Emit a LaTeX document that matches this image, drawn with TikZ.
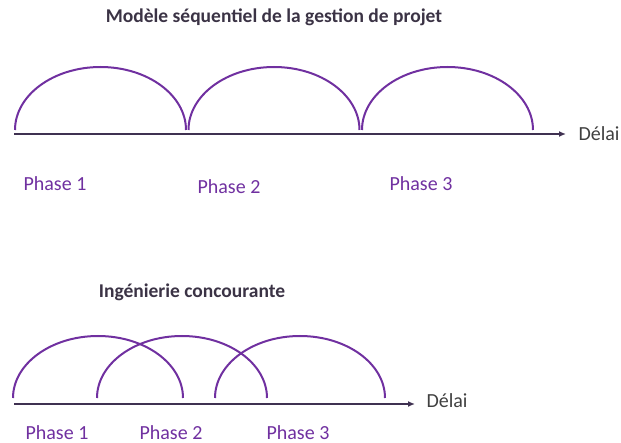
\documentclass[tikz,border=0pt]{standalone}
\usepackage{fontspec}
\setmainfont{Carlito}
\usepackage{tikz}
\usetikzlibrary{arrows.meta}

\definecolor{phasepurple}{HTML}{7030A0}
\definecolor{axisgrey}{HTML}{3F3151}
\definecolor{titlegrey}{HTML}{3B3345}
\definecolor{textgrey}{HTML}{404040}

\tikzset{
    phasearc/.style = {line width = 2pt, phasepurple},
    timeaxis/.style = {line width = 1.6pt, axisgrey, -{Latex[length=7pt, width=6pt]}},
    phaselabel/.style = {text = phasepurple, font = \fontsize{20}{24}\selectfont, anchor = base, inner sep = 1pt},
    axislabel/.style = {text = textgrey, font = \fontsize{20}{24}\selectfont},
    diagtitle/.style = {text = titlegrey, font = \fontsize{19.5}{24}\selectfont\bfseries}
}

\begin{document}
\begin{tikzpicture}[x = 1pt, y = -1pt]
    \useasboundingbox (0,0) rectangle (621,443);

    % sequential model
    \node[diagtitle] (titleseq) at (274,17) {Modèle séquentiel de la gestion de projet};

    \foreach \x in {15, 188.5, 362}
    {
     \draw[phasearc] (\x,130) arc[start angle = 180, end angle = 360, x radius = 85.5, y radius = 63];
    }

    \coordinate (seqstart) at (14,134);
    \coordinate (seqend) at (566,134);
    \draw[timeaxis] (seqstart) -- (seqend);
    \node[axislabel, anchor = west] (delaiseq) at (575,134) {Délai};

    \foreach \px/\py [count=\k] in {55/191, 229/194, 421/191}
    {
     \node[phaselabel] (seqphase\k) at (\px,\py) {Phase \k};
    }

    % concurrent engineering
    \node[diagtitle] (titleconc) at (192,292) {Ingénierie concourante};

    \foreach \x in {13, 97, 215}
    {
     \draw[phasearc] (\x,398) arc[start angle = 180, end angle = 360, x radius = 85, y radius = 62];
    }

    \coordinate (concstart) at (14,404);
    \coordinate (concend) at (415,404);
    \draw[timeaxis] (concstart) -- (concend);
    \node[axislabel, anchor = west] (delaiconc) at (423,401) {Délai};

    \foreach \px/\py [count=\k] in {57/439, 171/439, 298/439}
    {
     \node[phaselabel] (concphase\k) at (\px,\py) {Phase \k};
    }
\end{tikzpicture}
\end{document}
